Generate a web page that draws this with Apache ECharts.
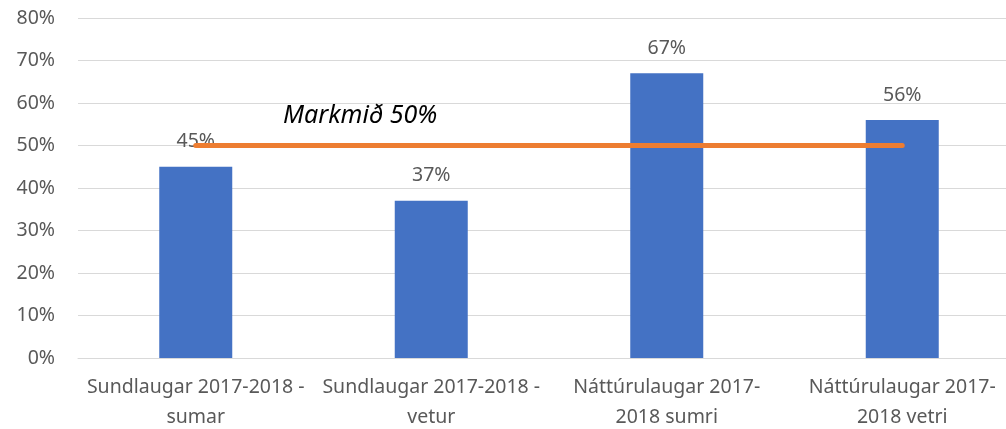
<!DOCTYPE html>
<html>
<head>
<meta charset="utf-8">
<script src="https://cdn.jsdelivr.net/npm/echarts@6/dist/echarts.min.js"></script>
<style>
html, body { margin: 0; padding: 0; background: #fff; overflow: hidden; }
#chart { width: 1020px; height: 429px; }
</style>
</head>
<body>
<div id="chart"></div>
<script>
// gögn
var categories = [
    "Sundlaugar 2017-2018 -\nsumar",
    "Sundlaugar 2017-2018 -\nvetur",
    "Náttúrulaugar 2017-\n2018 sumri",
    "Náttúrulaugar 2017-\n2018 vetri"
];
var values = [45, 37, 67, 56];
var target = [50, 50, 50, 50];
var targetLabel = "Markmið 50%";

var font = "'Noto Sans', 'Open Sans', sans-serif";

var option = {
    animation: false,
    grid: { left: 78, right: 0, top: 18, bottom: 71, outerBoundsMode: "none", containLabel: false },
    xAxis: {
        type: "category",
        data: categories,
        axisLine: { lineStyle: { color: "#d9d9d9" } },
        axisTick: { show: false },
        axisLabel: {
            color: "#595959",
            fontFamily: font,
            fontSize: 19.5,
            lineHeight: 30,
            margin: 14,
            interval: 0
        }
    },
    yAxis: {
        type: "value",
        min: 0,
        max: 80,
        interval: 10,
        axisLine: { show: false },
        axisTick: { show: false },
        splitLine: { lineStyle: { color: "#d9d9d9", width: 1 } },
        axisLabel: {
            color: "#595959",
            fontFamily: font,
            fontSize: 19.5,
            margin: 23,
            formatter: "{value}%"
        }
    },
    series: [{
        type: "bar",
        data: values,
        barWidth: 73,
        itemStyle: { color: "#4472C4" },
        label: {
            show: true,
            position: "top",
            distance: 15,
            color: "#595959",
            fontFamily: font,
            fontSize: 19.5,
            formatter: "{c}%"
        }
    }, {
        type: "line",
        data: target,
        symbol: "none",
        lineStyle: { color: "#ED7D31", width: 5, cap: "round" },
        z: 3
    }],
    graphic: [{
        type: "text",
        x: 283,
        y: 116,
        z: 10,
        style: {
            text: targetLabel,
            fontFamily: font,
            fontStyle: "italic",
            fontSize: 25,
            fill: "#000",
            verticalAlign: "middle"
        }
    }]
};

var myChart = echarts.init(document.getElementById("chart"));
myChart.setOption(option, true);
</script>
</body>
</html>
